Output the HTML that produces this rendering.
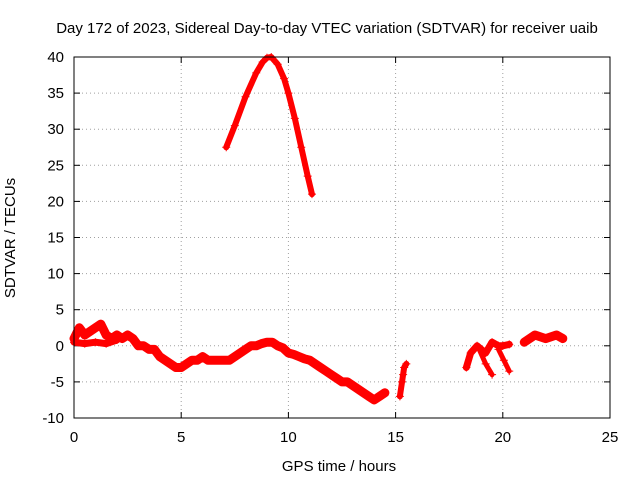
<!DOCTYPE html>
<html><head><meta charset="utf-8"><style>
html,body{margin:0;padding:0;background:#fff}
svg{display:block;font-family:"Liberation Sans",sans-serif}
</style></head><body>
<svg id="chart" width="640" height="480">
<rect width="640" height="480" fill="#fff"/>
<text x="327" y="33" font-size="15" text-anchor="middle">Day 172 of 2023, Sidereal Day-to-day VTEC variation (SDTVAR) for receiver uaib</text>
<text x="339" y="471" font-size="15" text-anchor="middle">GPS time / hours</text>
<text transform="translate(15,238) rotate(-90)" font-size="15" text-anchor="middle">SDTVAR / TECUs</text>
<g id="grid"></g><g id="ticks"></g><g id="marks"></g>
<rect x="74" y="57" width="536" height="361" fill="none" stroke="#000"/>
</svg>
<script>
const xTicks = [0,5,10,15,20,25];
const yTicks = [-10,-5,0,5,10,15,20,25,30,35,40];
const arcHours = [7.1,7.5,8,8.5,8.8,9,9.2,9.5,9.8,10,10.3,10.6,10.9,11.1];
const arcValues = [27.5,30.5,34.5,37.8,39.3,39.9,40,39,37,35,31.5,27.5,23.5,21];
const mainHours = [0,0.25,0.5,0.75,1,1.25,1.5,1.75,2,2.25,2.5,2.75,3,3.25,3.5,3.75,4,4.25,4.5,4.75,5,5.25,5.5,5.75,6,6.25,6.5,6.75,7,7.25,7.5,7.75,8,8.25,8.5,8.75,9,9.25,9.5,9.75,10,10.25,10.5,10.75,11,11.25,11.5,11.75,12,12.25,12.5,12.75,13,13.25,13.5,13.75,14,14.25,14.5];
const mainValues = [1,2.5,1.5,2,2.5,3,1.5,1,1.5,1,1.5,1,0,0,-0.5,-0.5,-1.5,-2,-2.5,-3,-3,-2.5,-2,-2,-1.5,-2,-2,-2,-2,-2,-1.5,-1,-0.5,0,0,0.3,0.5,0.5,0,-0.3,-1,-1.2,-1.5,-1.8,-2,-2.5,-3,-3.5,-4,-4.5,-5,-5,-5.5,-6,-6.5,-7,-7.5,-7,-6.5];
const lowBandHours = [0,0.5,1,1.5,2];
const lowBandValues = [0.5,0.3,0.5,0.3,0.8];
const spikeHours = [15.2,15.3,15.35,15.4,15.5];
const spikeValues = [-7,-5,-4,-3,-2.5];
const lateHours = [18.3,18.5,18.8,19,19.2,19.5,19.8,20,20.3];
const lateValues = [-3,-1,0,-0.5,-1,0.5,0,0,0.2];
const dip1Hours = [18.9,19.2,19.5];
const dip1Values = [-0.5,-2.5,-4];
const dip2Hours = [19.8,20.05,20.3];
const dip2Values = [-0.5,-2,-3.5];
const endHours = [21,21.5,22,22.5,22.8];
const endValues = [0.5,1.5,1,1.5,1];

const X0=74,X1=610,Y0=418,Y1=57;
const xs=h=>X0+(h-0)/(25-0)*(X1-X0);
const ys=v=>Y0-(v+10)/(40+10)*(Y0-Y1);
const NS="http://www.w3.org/2000/svg";
const grid=document.getElementById('grid'),ticks=document.getElementById('ticks'),marks=document.getElementById('marks');
function mk(tag,attrs,parent){const e=document.createElementNS(NS,tag);for(const k in attrs)e.setAttribute(k,attrs[k]);parent.appendChild(e);return e;}

xTicks.forEach(t=>{
  const x=xs(t);
  if(t>0&&t<25){const g=mk('line',{x1:x,x2:x,y1:Y0,y2:Y1,stroke:'#a0a0a0','stroke-dasharray':'1,3'},grid);
  
  }
  mk('line',{x1:x,x2:x,y1:Y0,y2:Y0-6,stroke:'#000'},ticks);
  mk('line',{x1:x,x2:x,y1:Y1,y2:Y1+6,stroke:'#000'},ticks);
  const l=mk('text',{x:x,y:Y0+24,'font-size':15,'text-anchor':'middle'},ticks);l.textContent=t;
  
  
});
yTicks.forEach(t=>{
  const y=ys(t);
  if(t>-10&&t<40){const g=mk('line',{x1:X0,x2:X1,y1:y,y2:y,stroke:'#a0a0a0','stroke-dasharray':'1,3'},grid);
  
  }
  mk('line',{x1:X0,x2:X0+6,y1:y,y2:y,stroke:'#000'},ticks);
  mk('line',{x1:X1,x2:X1-6,y1:y,y2:y,stroke:'#000'},ticks);
  const l=mk('text',{x:X0-10,y:y+5,'font-size':15,'text-anchor':'end'},ticks);l.textContent=t;
  
  
});

function series(hours,vals,name,w){
  const g=mk('g',{},marks);
  
  
  const pts=hours.map((h,i)=>xs(h)+','+ys(vals[i])).join(' ');
  mk('polyline',{points:pts,fill:'none',stroke:'#f00','stroke-width':w,'stroke-linejoin':'round','stroke-linecap':'round'},g);
  hours.forEach((h,i)=>{
    const x=xs(h),y=ys(vals[i]);
    mk('path',{d:`M${x-4},${y}H${x+4}M${x},${y-4}V${y+4}`,stroke:'#f00','stroke-width':1},g);
  });
}
series(arcHours,arcValues,'arc-series',6);
series(mainHours,mainValues,'main-series',9);
series(lowBandHours,lowBandValues,'low-band-series',7);
series(spikeHours,spikeValues,'spike-series',6);
series(lateHours,lateValues,'late-series',7);
series(dip1Hours,dip1Values,'dip1-series',5);
series(dip2Hours,dip2Values,'dip2-series',5);
series(endHours,endValues,'end-series',9);
</script>
</body></html>
